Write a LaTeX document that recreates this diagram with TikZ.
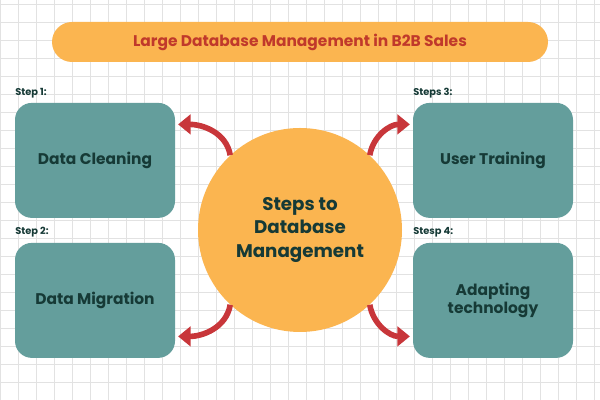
\documentclass[tikz,border=0pt]{standalone}
\usepackage{fontspec}
\setmainfont{Poppins}
\usetikzlibrary{arrows.meta}
\definecolor{pillorange}{HTML}{FBB550}
\definecolor{titlered}{HTML}{C0392B}
\definecolor{boxteal}{HTML}{649E9C}
\definecolor{inkdark}{HTML}{163A36}
\definecolor{arrowred}{HTML}{C8363A}
\definecolor{gridgrey}{HTML}{E2E2E2}
\tikzset{
  stepbox/.style={fill=boxteal, rounded corners=12pt, minimum width=4cm, minimum height=2.875cm, text=inkdark, font=\bfseries\fontsize{11}{13}\selectfont, align=center},
  steplabel/.style={anchor=west, text=inkdark, font=\bfseries\fontsize{7}{8}\selectfont, inner sep=0pt},
  curvearrow/.style={draw=arrowred, line width=4pt, -{Triangle[length=9pt,width=14pt]}}
}
\begin{document}
\begin{tikzpicture}
  \useasboundingbox (0,0) rectangle (15,10);
  \fill[white] (0,0) rectangle (15,10);
  \draw[gridgrey, step=0.45cm] (0,0) grid (15,10);
  % title
  \node (title) [fill=pillorange, rounded corners=0.5cm, minimum width=12.4cm, minimum height=1cm,
    text=titlered, font=\bfseries\fontsize{11}{13}\selectfont] at (7.5,8.95) {Large Database Management in B2B Sales};
  % centre
  \node (hub) [circle, fill=pillorange, minimum size=5.1cm, text=inkdark, align=center,
    font=\bfseries\fontsize{13}{17}\selectfont] at (7.5,4.25) {Steps to\\Database\\Management};
  % boxes
  \node (clean) [stepbox] at (2.375,5.99) {Data Cleaning};
  \node (migrate) [stepbox] at (2.375,2.49) {Data Migration};
  \node (train) [stepbox] at (12.325,5.99) {User Training};
  \node (adapt) [stepbox] at (12.325,2.49) {Adapting\\technology};
  \node (s1) [steplabel] at (0.375,7.68) {Step 1:};
  \node (s2) [steplabel] at (0.375,4.2) {Step 2:};
  \node (s3) [steplabel] at (10.325,7.68) {Steps 3:};
  \node (s4) [steplabel] at (10.325,4.2) {Stesp 4:};
  % arrows
  \draw[curvearrow] (hub.133) to[out=100, in=0] ([xshift=2pt, yshift=0.9cm]clean.east);
  \draw[curvearrow] (hub.47) to[out=80, in=180] ([xshift=-2pt, yshift=0.9cm]train.west);
  \draw[curvearrow] (hub.227) to[out=-100, in=0] ([xshift=2pt, yshift=-0.9cm]migrate.east);
  \draw[curvearrow] (hub.313) to[out=-80, in=180] ([xshift=-2pt, yshift=-0.9cm]adapt.west);
\end{tikzpicture}
\end{document}
